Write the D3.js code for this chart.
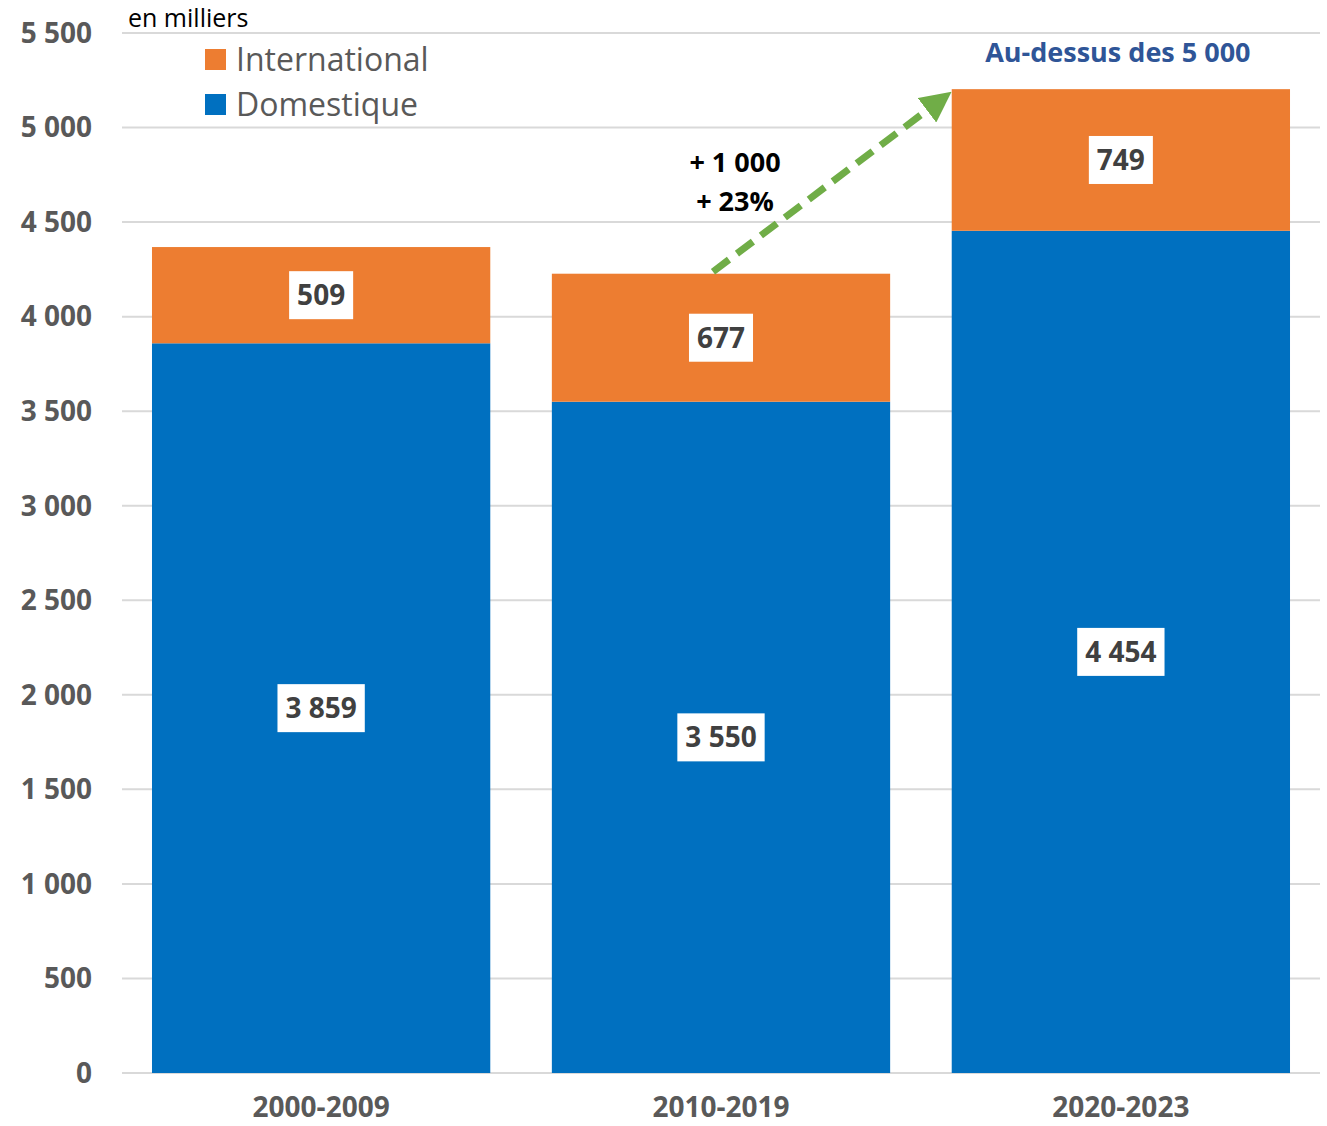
<!DOCTYPE html>
<html>
<head>
<meta charset="utf-8">
<title>Domestique / International</title>
<style>
  body { margin: 0; background: #fff; }
  text { font-family: "Open Sans", sans-serif; }
</style>
<script src="https://d3js.org/d3.v7.min.js"></script>
</head>
<body>
<div id="chart"></div>
<script>
var periods = ["2000-2009", "2010-2019", "2020-2023"];
var domestique = [3859, 3550, 4454];
var international = [509, 677, 749];
var yTicks = [0, 500, 1000, 1500, 2000, 2500, 3000, 3500, 4000, 4500, 5000, 5500];
var seriesNames = ["International", "Domestique"];
var colors = { Domestique: "#0070C0", International: "#ED7D31" };

var W = 1327, H = 1126;
var margin = { top: 33, right: 7, bottom: 53, left: 122 };
var width = W - margin.left - margin.right,
    height = H - margin.top - margin.bottom;

var svg = d3.select("#chart").append("svg")
  .attr("width", W).attr("height", H);
var g = svg.append("g")
  .attr("transform", "translate(" + margin.left + "," + margin.top + ")");

var x = d3.scaleBand().domain(periods).range([0, width])
  .paddingInner(0.154).paddingOuter(0.075);
var y = d3.scaleLinear().domain([0, 5500]).range([height, 0]);

var fmt = function(v) { return d3.format(",")(v).replace(/,/g, " "); };

// grid
g.append("g").selectAll("line").data(yTicks).enter().append("line")
  .attr("x1", 0).attr("x2", width)
  .attr("y1", d => y(d)).attr("y2", d => y(d))
  .attr("stroke", "#d9d9d9").attr("stroke-width", 2);

// y labels
g.append("g").selectAll("text").data(yTicks).enter().append("text")
  .attr("x", -30).attr("y", d => y(d)).attr("dy", "0.35em")
  .attr("text-anchor", "end")
  .style("font-size", "28px").style("font-weight", "bold").style("fill", "#595959")
  .text(d => fmt(d));

// stacks
var rows = periods.map((p, i) => ({ period: p, Domestique: domestique[i], International: international[i] }));
var stack = d3.stack().keys(["Domestique", "International"])(rows);

var layers = g.selectAll(".layer").data(stack).enter().append("g")
  .attr("fill", d => colors[d.key]);
layers.selectAll("rect").data(d => d).enter().append("rect")
  .attr("x", d => x(d.data.period))
  .attr("width", x.bandwidth())
  .attr("y", d => y(d[1]))
  .attr("height", d => y(d[0]) - y(d[1]));

// value labels
stack.forEach(function(layer) {
  layer.forEach(function(d) {
    var cx = x(d.data.period) + x.bandwidth() / 2;
    var cy = y((d[0] + d[1]) / 2);
    var lbl = g.append("g").attr("transform", "translate(" + cx + "," + cy + ")");
    var t = lbl.append("text").attr("text-anchor", "middle").attr("dy", "0.36em")
      .style("font-size", "28px").style("font-weight", "bold").style("fill", "#404040")
      .text(fmt(d[1] - d[0]));
    var bb = t.node().getBBox();
    lbl.insert("rect", "text")
      .attr("x", bb.x - 8).attr("y", -24)
      .attr("width", bb.width + 16).attr("height", 48)
      .attr("fill", "#fff");
  });
});

// x labels
g.append("g").selectAll("text").data(periods).enter().append("text")
  .attr("x", d => x(d) + x.bandwidth() / 2).attr("y", height + 44)
  .attr("text-anchor", "middle")
  .style("font-size", "28px").style("font-weight", "bold").style("fill", "#595959")
  .text(d => d);

// arrow
svg.append("defs").append("marker")
  .attr("id", "head").attr("viewBox", "0 0 10 10")
  .attr("refX", 6).attr("refY", 5)
  .attr("markerWidth", 4.4).attr("markerHeight", 4.4)
  .attr("orient", "auto")
  .append("path").attr("d", "M0,0 L10,5 L0,10 z").attr("fill", "#70AD47");

var tot1 = domestique[1] + international[1];
var tot2 = domestique[2] + international[2];
g.append("line")
  .attr("x1", x(periods[1]) + x.bandwidth() / 2 - 8).attr("y1", y(tot1) - 2)
  .attr("x2", x(periods[2]) - 10).attr("y2", y(tot2) + 10)
  .attr("stroke", "#70AD47").attr("stroke-width", 7)
  .attr("stroke-dasharray", "20,10")
  .attr("marker-end", "url(#head)");

// annotations
var ann = g.append("g")
  .style("font-size", "27px").style("font-weight", "bold").style("fill", "#000")
  .attr("text-anchor", "middle");
ann.append("text").attr("x", x(periods[1]) + x.bandwidth() / 2 + 14).attr("y", 139).text("+ 1 000");
ann.append("text").attr("x", x(periods[1]) + x.bandwidth() / 2 + 14).attr("y", 178).text("+ 23%");

g.append("text")
  .attr("x", x(periods[2]) + x.bandwidth() / 2 - 3).attr("y", 29)
  .attr("text-anchor", "middle")
  .style("font-size", "27px").style("font-weight", "bold").style("fill", "#2F5597")
  .text("Au-dessus des 5 000");

// unit
svg.append("text").attr("x", 128).attr("y", 27)
  .style("font-size", "25px").style("fill", "#000").text("en milliers");

// legend
var leg = svg.append("g").selectAll("g").data(seriesNames).enter().append("g")
  .attr("transform", (d, i) => "translate(205," + (49 + i * 45) + ")");
leg.append("rect").attr("width", 21).attr("height", 21).attr("fill", d => colors[d]);
leg.append("text").attr("x", 31).attr("y", 10.5).attr("dy", "0.36em")
  .style("font-size", "32px").style("fill", "#595959").text(d => d);
</script>
</body>
</html>
